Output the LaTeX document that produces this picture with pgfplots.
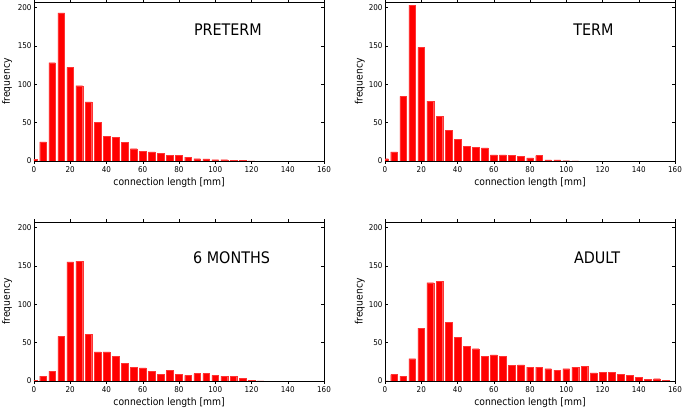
\documentclass[border=0pt]{standalone}
\usepackage{pgfplots}
\pgfplotsset{compat=1.18}
\usepackage{fontspec}
\setmainfont{DejaVu Sans Condensed}
\pgfplotsset{
  hist/.style={
    scale only axis, width=290bp, height=159bp,
    anchor=south west,
    xmin=0, xmax=160, ymin=0, ymax=207,
    xtick={0,20,...,160}, ytick={0,50,...,200},
    tick align=inside, major tick length=3bp,
    axis line style={line width=0.6pt},
    every tick/.style={black, line width=0.5pt},
    /pgf/number format/assume math mode=true,
    ticklabel style={font=\fontsize{8}{9}\selectfont},
    xticklabel style={yshift=1bp},
    yticklabel style={xshift=1bp},
    xlabel={connection length [mm]}, ylabel={frequency},
    label style={font=\fontsize{10.3}{12}\selectfont},
    xlabel style={at={(axis description cs:0.5,-0.138)}, anchor=center},
    ylabel style={at={(axis description cs:-0.093,0.5)}, anchor=center},
    ybar, bar width=3.7, bar shift=0pt,
  },
  leftcol/.style={
    xlabel style={at={(axis description cs:0.466,-0.138)}, anchor=center},
  },
  rightcol/.style={
    ylabel style={at={(axis description cs:-0.087,0.5)}, anchor=center},
  }
}
\tikzset{
  ttl/.style={font=\fontsize{16}{18}\selectfont, anchor=center},
  hbar/.style={fill=red, draw=red!80!white, line width=0.3pt}
}
\begin{document}
\begin{tikzpicture}
\useasboundingbox (0,0) rectangle (686bp,411bp);
% PRETERM
\begin{axis}[hist, leftcol, at={(34bp,250bp)}]
\addplot[hbar] coordinates {(0,2)(5,25)(10,128)(15,193)(20,122)(25,98)(30,77)(35,50)(40,32)(45,31)(50,24)(55,16)(60,13)(65,12)(70,10)(75,7)(80,7)(85,5)(90,3)(95,2.6)(100,1.7)(105,1.7)(110,1)(115,0.5)(120,0.3)};
\node[ttl] at (axis cs:107,171) {PRETERM};
\end{axis}
% TERM
\begin{axis}[hist, rightcol, at={(385bp,250bp)}]
\addplot[hbar] coordinates {(0,3)(5,12)(10,84)(15,203)(20,148)(25,78)(30,58)(35,40)(40,28)(45,19)(50,18)(55,17)(60,8)(65,8)(70,7)(75,6.5)(80,4)(85,7)(90,1.3)(95,1.3)(100,0.4)(105,0.3)};
\node[ttl] at (axis cs:115,171) {TERM};
\end{axis}
% 6 MONTHS
\begin{axis}[hist, leftcol, at={(34bp,30bp)}]
\addplot[hbar] coordinates {(0,0.5)(5,6.5)(10,13)(15,58)(20,155)(25,156)(30,61)(35,38)(40,38)(45,32)(50,23)(55,18)(60,17)(65,13)(70,8.3)(75,14)(80,8.3)(85,7.4)(90,9.6)(95,9.6)(100,7.4)(105,6.5)(110,6)(115,3.5)(120,1.3)(125,0.3)};
\node[ttl] at (axis cs:109,161) {6 MONTHS};
\end{axis}
% ADULT
\begin{axis}[hist, rightcol, at={(385bp,30bp)}]
\addplot[hbar] coordinates {(0,0.3)(5,8.3)(10,6.5)(15,29)(20,69)(25,128)(30,130)(35,76)(40,57)(45,45)(50,42)(55,32)(60,34)(65,32)(70,20)(75,21)(80,18)(85,18)(90,16)(95,14)(100,16)(105,18)(110,19)(115,10.5)(120,11)(125,11.3)(130,9)(135,7.4)(140,4.8)(145,2.6)(150,3)(155,0.9)};
\node[ttl] at (axis cs:117,161) {ADULT};
\end{axis}
\end{tikzpicture}
\end{document}
